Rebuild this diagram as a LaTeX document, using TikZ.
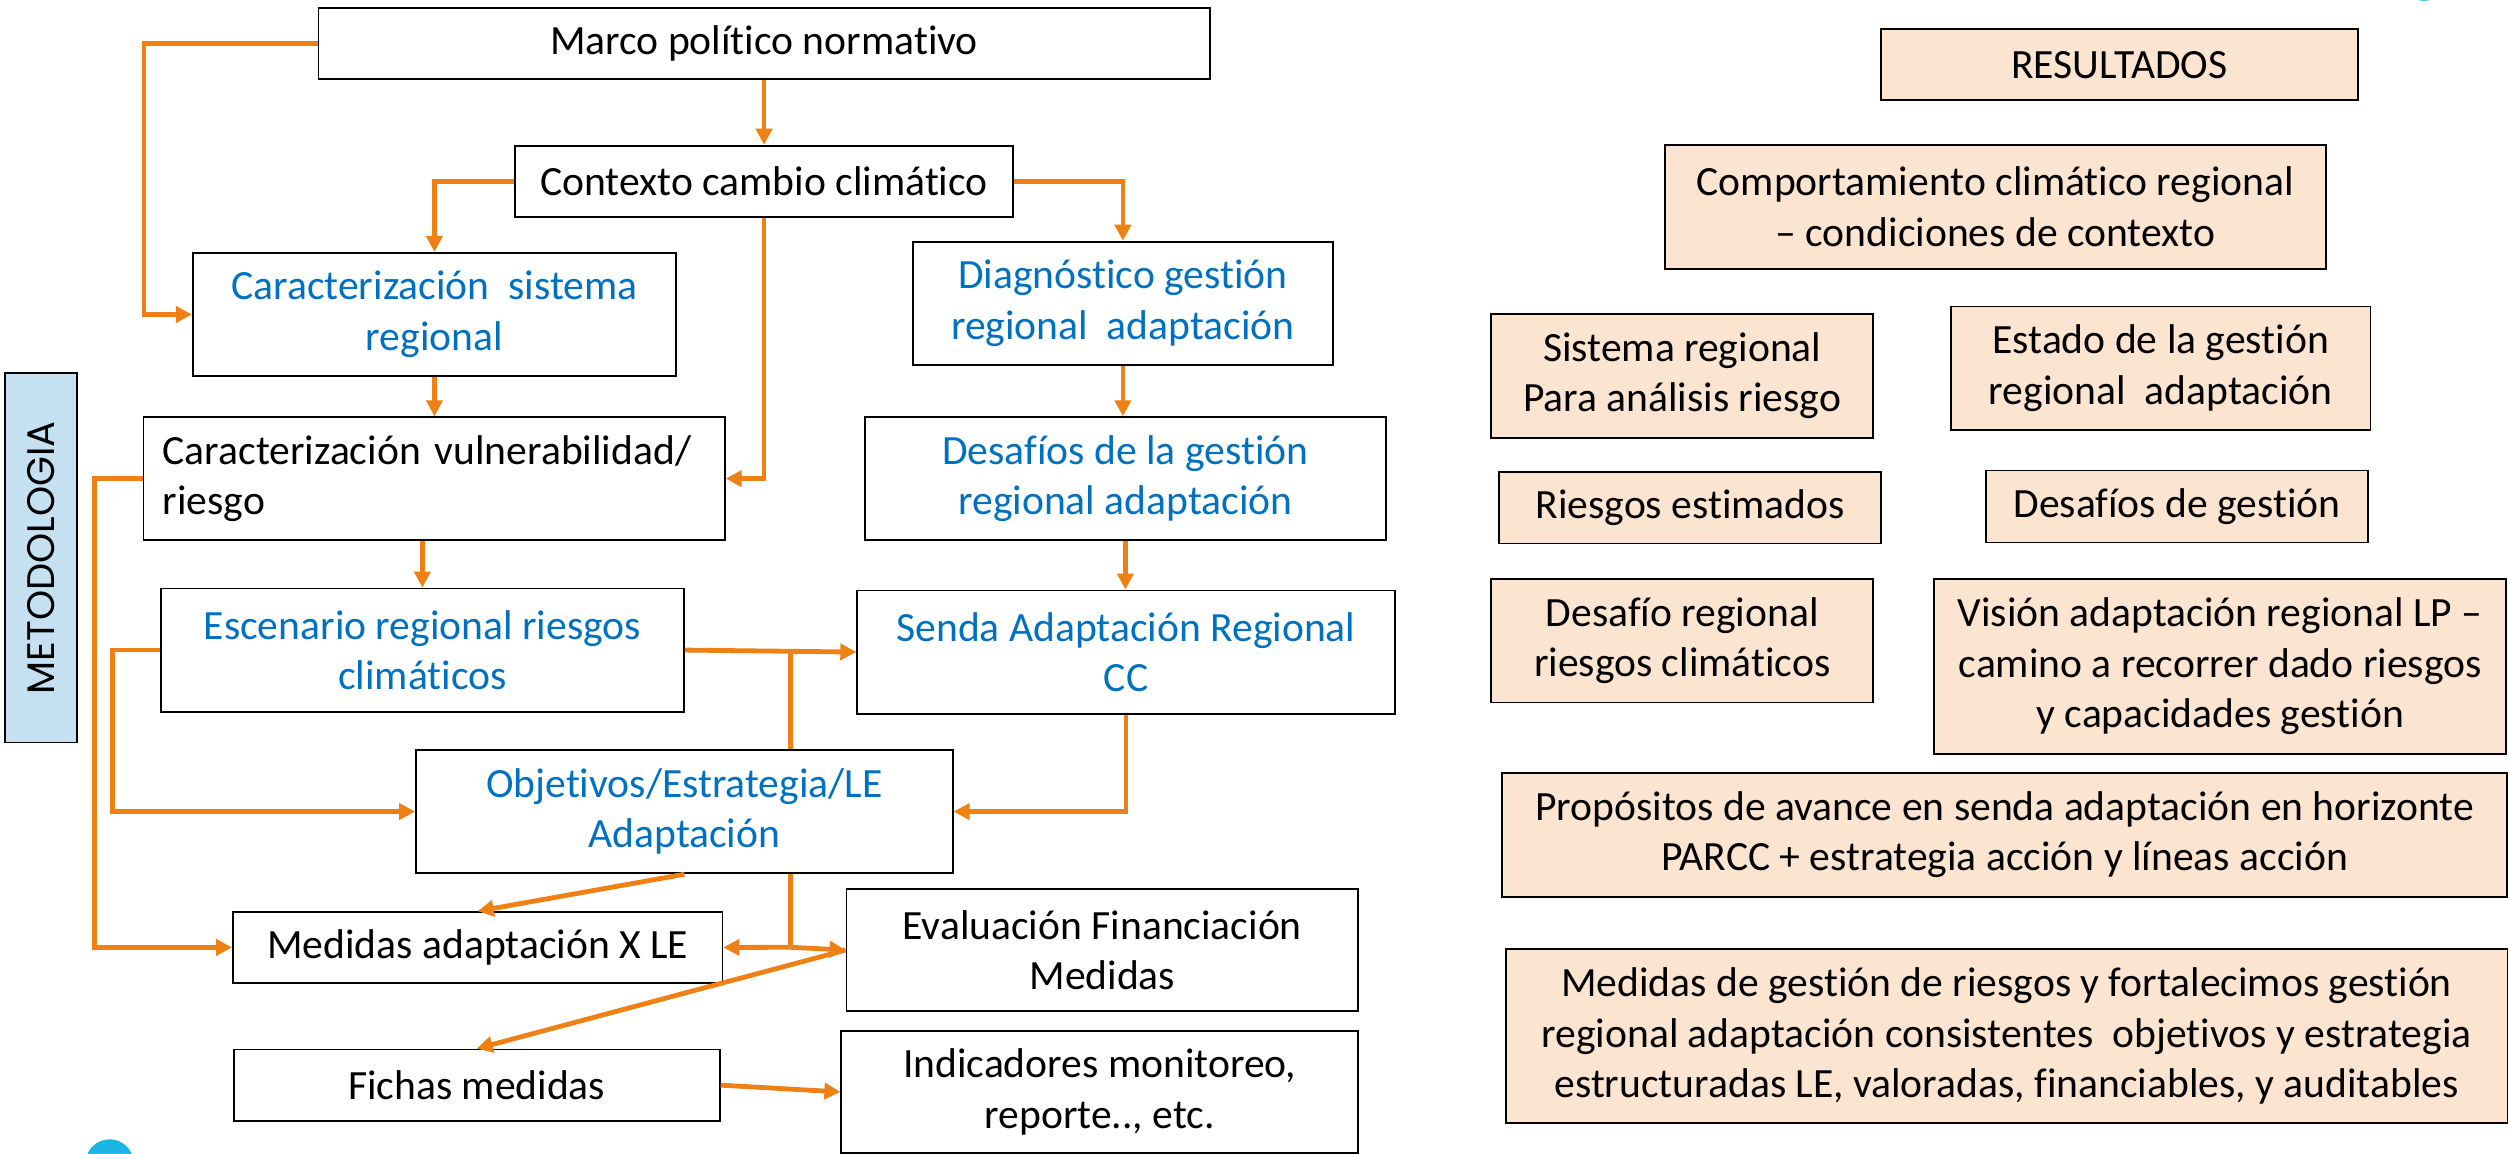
\documentclass[tikz,border=0pt]{standalone}
\usepackage{fontspec}
\setmainfont{Carlito}[RawFeature={-liga}]
\newfontfamily\metfont{Poppins}
\usetikzlibrary{arrows.meta,calc}
\definecolor{orng}{RGB}{238,128,20}
\definecolor{txtblue}{RGB}{0,112,192}
\definecolor{peach}{RGB}{251,228,208}
\definecolor{ltblue}{RGB}{197,225,241}
\definecolor{logocyan}{RGB}{27,182,227}
\tikzset{
  box/.style={draw=black, line width=1.1pt, fill=white, inner sep=0pt, align=center,
    font=\fontsize{26}{31.5}\selectfont},
  bluebox/.style={box, text=txtblue},
  resbox/.style={box, fill=peach},
  conn/.style={draw=orng, line width=3pt},
  arr/.style={conn, -{Triangle[length=10pt,width=10pt]}},
}
\begin{document}
\begin{tikzpicture}[x=1pt,y=-1pt]
\useasboundingbox (0,0) rectangle (1568,721);
% logo fragments
\fill[logocyan] (68.5,727) circle (15);
\fill[logocyan] (1515,-14.5) circle (15);

% ---------- left: METODOLOGIA ----------
\node[box, fill=ltblue, minimum width=45, minimum height=231] (metod) at (25.5,348.5) {};
\node[rotate=90, font=\metfont\fontsize{24}{28}\selectfont] (metodtxt) at (metod.center) {METODOLOGIA};

\node[box, minimum width=557, minimum height=44.6] (marco) at (477.5,27.3) {Marco político normativo};
\node[box, minimum width=311, minimum height=44.5] (ctx) at (477.5,113.25) {Contexto cambio climático};
\node[bluebox, minimum width=302, minimum height=77] (carsis) at (271.5,196.5) {Caracterización\ \ sistema\\regional};
\node[bluebox, minimum width=262.5, minimum height=77] (diag) at (701.75,189.5) {Diagnóstico gestión\\regional\ \ adaptación};
\node[box, minimum width=363.3, minimum height=76.8, align=left, text width=339.3] (carvul) at (271.35,299.1) {Caracterización vulnerabilidad/\\riesgo};
\node[bluebox, minimum width=325.4, minimum height=76.8] (desaf) at (703.3,299.1) {Desafíos de la gestión\\regional adaptación};
\node[bluebox, minimum width=327, minimum height=77] (esc) at (263.95,406.25) {Escenario regional riesgos\\climáticos};
\node[bluebox, minimum width=336, minimum height=77] (senda) at (703.7,407.5) {Senda Adaptación Regional\\CC};
\node[bluebox, minimum width=335.4, minimum height=77.2] (obj) at (427.7,507.2) {Objetivos/Estrategia/LE\\Adaptación};
\node[box, minimum width=306, minimum height=44.2] (med) at (298.55,592.1) {Medidas adaptación X LE};
\node[box, minimum width=319.8, minimum height=76.5] (eval) at (688.9,593.75) {Evaluación Financiación\\Medidas};
\node[box, minimum width=303.8, minimum height=44.5] (fichas) at (297.9,678.15) {Fichas medidas};
\node[box, minimum width=323, minimum height=76.2] (ind) at (687.25,682.4) {Indicadores monitoreo,\\reporte.., etc.};

% ---------- connectors ----------
\draw[arr] (marco.west) -| ([xshift=-30pt]carsis.west) -- (carsis.west);
\draw[arr] (marco.south) -- (ctx.north);
\draw[arr] (ctx.west) -| (carsis.north);
\draw[arr] (ctx.east) -| (diag.north);
\draw[arr] (ctx.south) |- (carvul.east);
\draw[arr] (carsis.south) -- (carsis.south |- carvul.north);
\draw[arr] (diag.south) -- (diag.south |- desaf.north);
\draw[arr] (esc.north |- carvul.south) -- (esc.north);
\draw[arr] (desaf.south) -- (desaf.south |- senda.north);
\draw[arr] (carvul.west) -- ++(-30,0) |- (med.west);
\draw[arr] (esc.west) -- ++(-29.4,0) |- (obj.west);
\draw[arr] (esc.east) -- (senda.west);
\coordinate (jn1) at (494,407.2);
\draw[conn] (jn1) -- (jn1 |- obj.north);
\coordinate (jn2) at (494,592);
\draw[conn] (obj.south -| jn2) -- (jn2);
\draw[arr] (jn2) -- (med.east);
\draw[arr] (jn2) -- (eval.west);
\draw[arr] (senda.south) |- (obj.east);
\draw[arr] (obj.south) -- (med.north);
\draw[arr] (eval.west) -- (fichas.north);
\draw[arr] (fichas.east) -- (ind.west);

% ---------- right: RESULTADOS ----------
\node[resbox, minimum width=298, minimum height=44.5] (res) at (1324.5,40.45) {RESULTADOS};
\node[resbox, minimum width=413.3, minimum height=77.3] (comp) at (1247,129.25) {Comportamiento climático regional\\– condiciones de contexto};
\node[resbox, minimum width=238.6, minimum height=77.6] (sis) at (1051.3,234.8) {Sistema regional\\Para análisis riesgo};
\node[resbox, minimum width=262, minimum height=77] (est) at (1350.35,230) {Estado de la gestión\\regional\ \ adaptación};
\node[resbox, minimum width=238.6, minimum height=44.7] (rie) at (1056.3,317.35) {Riesgos estimados};
\node[resbox, minimum width=239, minimum height=45] (desg) at (1360.5,316.5) {Desafíos de gestión};
\node[resbox, minimum width=238.6, minimum height=77] (desr) at (1051.3,400.5) {Desafío regional\\riesgos climáticos};
\node[resbox, minimum width=357.5, minimum height=109] (vis) at (1387.5,416.5) {Visión adaptación regional LP –\\camino a recorrer dado riesgos\\y capacidades gestión};
\node[resbox, minimum width=628, minimum height=77.4] (prop) at (1252.8,521.7) {Propósitos de avance en senda adaptación en horizonte\\PARCC + estrategia acción y líneas acción};
\node[resbox, minimum width=626, minimum height=109] (medg) at (1254,647.5) {Medidas de gestión de riesgos y fortalecimos gestión\\regional adaptación consistentes\ \ objetivos y estrategia\\estructuradas LE, valoradas, financiables, y auditables};
\end{tikzpicture}
\end{document}
